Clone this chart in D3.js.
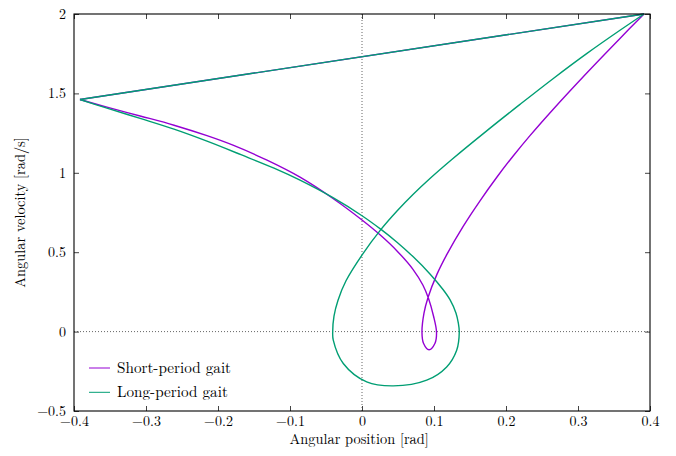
<!DOCTYPE html>
<html>
<head>
<meta charset="utf-8">
<script src="https://cdn.jsdelivr.net/npm/d3@7"></script>
<style>
  body { margin: 0; background: #fff; }
</style>
</head>
<body>
<div class="chart"></div>
<script>
// phase portrait over one step (angle [rad], angular velocity [rad/s])
const shortX = [-0.3917, -0.3542, -0.3069, -0.2611, -0.2153, -0.1792, -0.1319, -0.0861, -0.0403, 0.0, 0.0250, 0.0486, 0.0708, 0.0847, 0.0924, 0.0993, 0.1035, 0.1014, 0.0931, 0.0854, 0.0833, 0.0861, 0.0917, 0.1042, 0.1181, 0.1403, 0.1639, 0.1875, 0.2097, 0.2333, 0.2653, 0.3125, 0.3583, 0.3917];
const shortY = [1.4616, 1.4131, 1.3564, 1.2997, 1.2336, 1.1738, 1.0793, 0.9723, 0.8382, 0.7028, 0.6096, 0.5082, 0.3923, 0.2916, 0.2084, 0.0982, -0.0038, -0.0730, -0.1140, -0.0730, -0.0038, 0.1159, 0.2147, 0.3621, 0.4880, 0.6612, 0.8237, 0.9736, 1.1045, 1.2343, 1.3992, 1.6304, 1.8463, 2.0];

const longX = [-0.3917, -0.3542, -0.3069, -0.2611, -0.2153, -0.1681, -0.1222, -0.0861, -0.0403, 0.0, 0.0264, 0.0486, 0.0708, 0.0944, 0.1125, 0.1222, 0.1306, 0.1338, 0.1351, 0.1315, 0.1176, 0.0899, 0.0435, 0.0065, -0.0260, -0.0399, -0.0407, -0.0389, -0.0333, -0.0222, 0.0014, 0.0250, 0.0486, 0.0708, 0.0944, 0.1264, 0.1736, 0.2194, 0.2653, 0.3125, 0.3583, 0.3917];
const longY = [1.4616, 1.4068, 1.3407, 1.2746, 1.1990, 1.1140, 1.0290, 0.9534, 0.8432, 0.7298, 0.6436, 0.5630, 0.4723, 0.3633, 0.2651, 0.2009, 0.1159, 0.0529, -0.0019, -0.1171, -0.2223, -0.3060, -0.3419, -0.3168, -0.2009, -0.0542, -0.0019, 0.0970, 0.1977, 0.3199, 0.4912, 0.6360, 0.7594, 0.8634, 0.9641, 1.0901, 1.2657, 1.4307, 1.5926, 1.7519, 1.8974, 2.0];

const xTicks = [-0.4, -0.3, -0.2, -0.1, 0, 0.1, 0.2, 0.3, 0.4];
const yTicks = [-0.5, 0, 0.5, 1, 1.5, 2];

const seriesNames = ['Short-period gait', 'Long-period gait'];
const seriesColors = ['#9400d3', '#009e73'];

const margin = { left: 74, right: 26, top: 14, bottom: 45 };
const width = 676, height = 456;

// pick the first serif face that is really installed
const pickFont = (list) => {
  const ctx = document.createElement('canvas').getContext('2d');
  const probe = 'Angular position [rad] 0.123';
  ctx.font = '20px monospace';
  const base = ctx.measureText(probe).width;
  for (const f of list) {
    ctx.font = `20px "${f}", monospace`;
    if (Math.abs(ctx.measureText(probe).width - base) > 0.5) return `"${f}", serif`;
  }
  return 'serif';
};
const serif = pickFont(['Latin Modern Roman', 'CMU Serif', 'Liberation Serif', 'Tinos', 'Times New Roman', 'Noto Serif', 'DejaVu Serif']);

const svg = d3.select('.chart')
  .append('svg')
    .attr('width', width)
    .attr('height', height)
    .style('font-family', serif);

const x = d3.scaleLinear().domain([-0.4, 0.4]).range([margin.left, width - margin.right]);
const y = d3.scaleLinear().domain([-0.5, 2]).range([height - margin.bottom, margin.top]);

const fmt = (d) => d === 0 ? '0' : (d < 0 ? '\u2212' + Math.abs(d) : String(d));

// zero axes
svg.append('line')
  .attr('x1', x(0)).attr('x2', x(0))
  .attr('y1', y(-0.5)).attr('y2', y(2))
  .attr('stroke', '#666').attr('stroke-width', 1).attr('stroke-dasharray', '1,2');
svg.append('line')
  .attr('x1', x(-0.4)).attr('x2', x(0.4))
  .attr('y1', y(0)).attr('y2', y(0))
  .attr('stroke', '#666').attr('stroke-width', 1).attr('stroke-dasharray', '1,2');

// axes, ticks pointing inward on all four sides
const tick = 5;
svg.append('g')
  .attr('transform', `translate(0, ${y(-0.5)})`)
  .call(d3.axisBottom(x).tickValues(xTicks).tickSize(-tick).tickPadding(5).tickFormat(fmt))
  .call(g => g.select('.domain').remove());
svg.append('g')
  .attr('transform', `translate(0, ${y(2)})`)
  .call(d3.axisTop(x).tickValues(xTicks).tickSize(-tick).tickFormat(''))
  .call(g => g.select('.domain').remove());
svg.append('g')
  .attr('transform', `translate(${x(-0.4)}, 0)`)
  .call(d3.axisLeft(y).tickValues(yTicks).tickSize(-tick).tickPadding(8).tickFormat(fmt))
  .call(g => g.select('.domain').remove());
svg.append('g')
  .attr('transform', `translate(${x(0.4)}, 0)`)
  .call(d3.axisRight(y).tickValues(yTicks).tickSize(-tick).tickFormat(''))
  .call(g => g.select('.domain').remove());

svg.selectAll('g').attr('font-family', null);
svg.selectAll('.tick line').attr('stroke', '#444').attr('stroke-width', 1);
svg.selectAll('.tick text')
  .style('font-family', serif)
  .style('font-size', '14px')
  .attr('fill', '#000');

// curves
const line = d3.line().x(d => x(d[0])).y(d => y(d[1])).curve(d3.curveCatmullRom.alpha(0.5));
const straight = d3.line().x(d => x(d[0])).y(d => y(d[1]));

const series = [
  d3.zip(shortX, shortY),
  d3.zip(longX, longY)
];

series.forEach((pts, i) => {
  svg.append('path')
    .attr('d', line(pts))
    .attr('fill', 'none')
    .attr('stroke', seriesColors[i])
    .attr('stroke-width', 1.4);
  // impact: jump from last state back to first
  svg.append('path')
    .attr('d', straight([pts[pts.length - 1], pts[0]]))
    .attr('fill', 'none')
    .attr('stroke', seriesColors[i])
    .attr('stroke-width', 1.4);
});

// frame
svg.append('rect')
  .attr('x', x(-0.4)).attr('y', y(2))
  .attr('width', x(0.4) - x(-0.4)).attr('height', y(-0.5) - y(2))
  .attr('fill', 'none').attr('stroke', '#000').attr('stroke-width', 1.1);

// legend
const legend = svg.append('g').attr('transform', `translate(89, 368)`);
seriesNames.forEach((name, i) => {
  legend.append('line')
    .attr('x1', 0).attr('x2', 21)
    .attr('y1', i * 24.3).attr('y2', i * 24.3)
    .attr('stroke', seriesColors[i]).attr('stroke-width', 1);
  legend.append('text')
    .attr('x', 28).attr('y', i * 24.3 + 4.5)
    .style('font-size', '15.2px')
    .text(name);
});

// axis titles
svg.append('text')
  .attr('x', x(-0.004)).attr('y', 444)
  .attr('text-anchor', 'middle')
  .style('font-size', '14.4px')
  .text('Angular position [rad]');

svg.append('text')
  .attr('transform', `translate(25, ${y(0.75)}) rotate(-90)`)
  .attr('text-anchor', 'middle')
  .style('font-size', '14.4px')
  .text('Angular velocity [rad/s]');
</script>
</body>
</html>
